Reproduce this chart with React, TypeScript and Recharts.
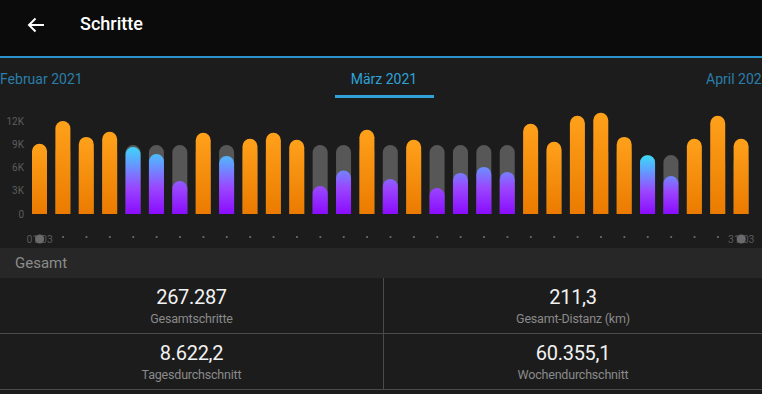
import React from "react";
import { BarChart, Bar, XAxis, YAxis, Rectangle } from "recharts";

const days = [
  "01.03", "02.03", "03.03", "04.03", "05.03", "06.03", "07.03", "08.03", "09.03", "10.03",
  "11.03", "12.03", "13.03", "14.03", "15.03", "16.03", "17.03", "18.03", "19.03", "20.03",
  "21.03", "22.03", "23.03", "24.03", "25.03", "26.03", "27.03", "28.03", "29.03", "30.03", "31.03",
];
const steps = [
  9050, 12000, 9950, 10600, 8650, 7750, 4250, 10480, 7500, 9700,
  10480, 9580, 3620, 5600, 10860, 4520, 9580, 3360, 5300, 6080,
  5430, 11640, 9310, 12680, 13060, 9950, 7590, 4910, 9700, 12680, 9700,
];
const goals = [
  8900, 8900, 8900, 8900, 8900, 8900, 8900, 8900, 8900, 8900,
  8900, 8900, 8900, 8900, 8900, 8900, 8900, 8900, 8900, 8900,
  8900, 8900, 8900, 8900, 8900, 8900, 7600, 7600, 7600, 7600, 7600,
];
const yTicks = [0, 3000, 6000, 9000, 12000];

const tabs = { prev: "Februar 2021", current: "März 2021", next: "April 2021" };
const stats = [
  { value: "267.287", label: "Gesamtschritte" },
  { value: "211,3", label: "Gesamt-Distanz (km)" },
  { value: "8.622,2", label: "Tagesdurchschnitt" },
  { value: "60.355,1", label: "Wochendurchschnitt" },
];

const data = days.map((d, i) => ({ day: d, steps: steps[i], goal: goals[i] }));

const FONT = "Roboto, 'Noto Sans', sans-serif";

const StepShape = (props: any) => {
  const { x, y, width, height, index, payload } = props;
  if (height <= 0) return null;
  const reached = payload.steps >= payload.goal;
  const r = width / 2;
  if (reached) {
    return <Rectangle x={x} y={y} width={width} height={height} radius={[r, r, 0, 0]} fill="url(#orangeGrad)" />;
  }
  const base = y + height;
  const full = height * (payload.goal / payload.steps);
  const id = `blueGrad${index}`;
  return (
    <g>
      <defs>
        <linearGradient id={id} gradientUnits="userSpaceOnUse" x1={0} y1={base} x2={0} y2={base - full}>
          <stop offset="0" stopColor="#8a0cff" />
          <stop offset="0.38" stopColor="#9a46ff" />
          <stop offset="0.55" stopColor="#8070ff" />
          <stop offset="0.75" stopColor="#5ea2ff" />
          <stop offset="1" stopColor="#3adcf8" />
        </linearGradient>
      </defs>
      <Rectangle x={x} y={y} width={width} height={height} radius={[r, r, 0, 0]} fill={`url(#${id})`} />
    </g>
  );
};

const XTick = (props: any) => {
  const { x, y, index, payload } = props;
  const last = days.length - 1;
  if (index === 0 || index === last) {
    return (
      <g>
        <text x={x} y={y + 26} textAnchor="middle" dominantBaseline="middle" fill="#5a5a5a" fontSize={10.5} fontFamily={FONT}>
          {payload.value}
        </text>
        <circle cx={x} cy={y + 25} r={4.5} fill="#6a6a6a" />
      </g>
    );
  }
  return <circle cx={x} cy={y + 23} r={1.1} fill="#6e6e6e" />;
};

export default function App() {
  return (
    <div
      style={{
        position: "absolute",
        left: 0,
        top: 0,
        width: 762,
        height: 394,
        background: "#1c1c1c",
        overflow: "hidden",
        fontFamily: FONT,
      }}
    >
      {/* app bar */}
      <div style={{ position: "absolute", left: 0, top: 0, width: 762, height: 56, background: "#0b0b0b" }} />
      <div style={{ position: "absolute", left: 0, top: 56, width: 762, height: 2, background: "#2c92cc" }} />
      <svg style={{ position: "absolute", left: 26, top: 15 }} width={20} height={20} viewBox="0 0 20 20">
        <path d="M18 10 H3 M9.5 3.5 L3 10 L9.5 16.5" stroke="#ffffff" strokeWidth={2} fill="none" strokeLinecap="butt" />
      </svg>
      <div style={{ position: "absolute", left: 80, top: 13, fontSize: 18, fontWeight: 500, color: "#ffffff", lineHeight: "22px" }}>
        Schritte
      </div>

      {/* tabs */}
      <div style={{ position: "absolute", left: 0, top: 70, fontSize: 14, color: "#2a7eaa", lineHeight: "18px" }}>{tabs.prev}</div>
      <div style={{ position: "absolute", left: 334, width: 100, textAlign: "center", top: 70, fontSize: 14, color: "#2fa2da", lineHeight: "18px" }}>
        {tabs.current}
      </div>
      <div style={{ position: "absolute", left: 335, top: 95, width: 99, height: 3, background: "#2fa2da" }} />
      <div style={{ position: "absolute", left: 706, top: 70, fontSize: 14, color: "#2a7eaa", lineHeight: "18px", whiteSpace: "nowrap" }}>
        {tabs.next}
      </div>

      {/* chart */}
      <div style={{ position: "absolute", left: 0, top: 100 }}>
        <BarChart width={762} height={148} data={data} margin={{ top: 5.5, right: 9, bottom: 0, left: 0 }} barSize={15} barGap={-15}>
          <defs>
            <linearGradient id="orangeGrad" x1="0" y1="0" x2="0" y2="1">
              <stop offset="0" stopColor="#ffa11b" />
              <stop offset="1" stopColor="#eb7b00" />
            </linearGradient>
          </defs>
          <XAxis dataKey="day" axisLine={false} tickLine={false} tickSize={0} tickMargin={0} height={34} interval={0} tick={<XTick />} />
          <YAxis
            width={28}
            domain={[0, 14000]}
            ticks={yTicks}
            axisLine={false}
            tickLine={false}
            tickSize={0}
            tickMargin={4}
            tickFormatter={(v: number) => (v === 0 ? "0" : `${v / 1000}K`)}
            tick={{ fill: "#5c5c5c", fontSize: 10, fontFamily: FONT }}
          />
          <Bar dataKey="goal" fill="#575757" radius={[7.5, 7.5, 0, 0]} isAnimationActive={false} />
          <Bar dataKey="steps" shape={<StepShape />} isAnimationActive={false} />
        </BarChart>
      </div>

      {/* summary */}
      <div style={{ position: "absolute", left: 0, top: 248, width: 762, height: 30, background: "#272727" }} />
      <div style={{ position: "absolute", left: 15, top: 254, fontSize: 15, color: "#8c8c8c", lineHeight: "18px" }}>Gesamt</div>
      <div style={{ position: "absolute", left: 0, top: 333, width: 762, height: 1, background: "#4a4a4a" }} />
      <div style={{ position: "absolute", left: 0, top: 389, width: 762, height: 1, background: "#4a4a4a" }} />
      <div style={{ position: "absolute", left: 383, top: 278, width: 1, height: 111, background: "#4a4a4a" }} />
      {stats.map((s, i) => {
        const col = i % 2;
        const row = Math.floor(i / 2);
        const left = col === 0 ? 0 : 384;
        const width = col === 0 ? 383 : 378;
        const top = 278 + row * 56;
        return (
          <div key={s.label} style={{ position: "absolute", left, top, width, textAlign: "center" }}>
            <div style={{ marginTop: 7, fontSize: 20, color: "#f2f2f2", lineHeight: "24px", letterSpacing: -0.3 }}>{s.value}</div>
            <div style={{ marginTop: 2, fontSize: 12.5, color: "#8a8a8a", lineHeight: "16px", letterSpacing: -0.2 }}>{s.label}</div>
          </div>
        );
      })}
    </div>
  );
}
